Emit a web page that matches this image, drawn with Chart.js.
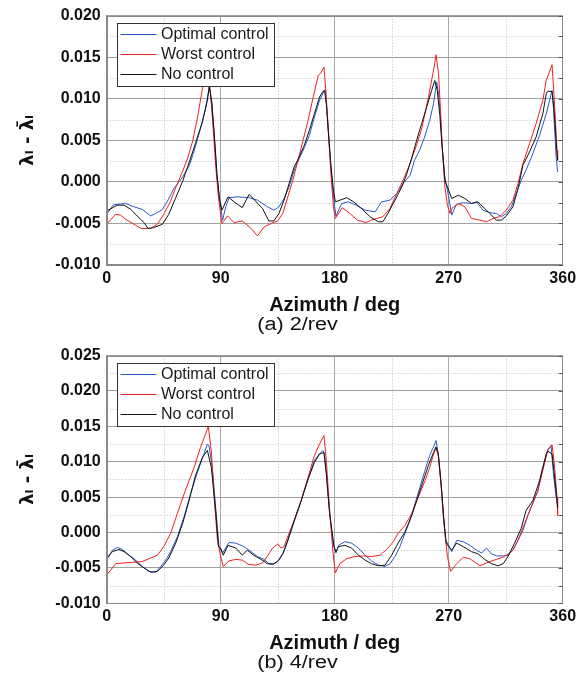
<!DOCTYPE html>
<html><head><meta charset="utf-8">
<script src="https://cdn.jsdelivr.net/npm/chart.js@4.4.0/dist/chart.umd.min.js"></script>
<style>
html,body{margin:0;padding:0;background:#fff;width:587px;height:682px;overflow:hidden;}
.wrap{position:absolute;left:0;width:587px;}
.cap{position:absolute;width:587px;left:4px;text-align:center;font-family:"Liberation Sans",Arial,sans-serif;font-size:18px;color:#111;line-height:20px;transform:scaleX(1.2);}
</style></head><body>
<div class="wrap" style="top:0;height:340px"><canvas id="c1" width="587" height="340"></canvas></div>
<div class="wrap" style="top:340px;height:342px"><canvas id="c2" width="587" height="342"></canvas></div>
<div class="cap" style="top:314px">(a) 2/rev</div>
<div class="cap" style="top:652px">(b) 4/rev</div>
<script>
// ---------- (a) 2/rev ----------
const t_opt_az = [0,5,8.4,15,21.6,28,34.7,38.7,44,48,53,60,65,69,74,78,80,81,83,85,87,89,91.5,94,96.6,103,112.5,119,127,132,136,140,144,148,152,156,160,164,168,171.5,172.6,174,176,178,180,181,185.5,190.8,197,204,212,217,223.6,229,234,239.5,243,247,251,255,258,260.5,262,263.5,265,267,270,272.4,276,281.5,288,292,297,302.4,307.7,311.6,315.5,319.4,323.4,327.3,331,336.4,341.7,347,351.6,352.7,354.8,356];
const t_opt_v = [-0.0039,-0.0028,-0.0027,-0.0026,-0.0030,-0.0033,-0.0041,-0.0038,-0.0033,-0.0023,-0.0008,0.0006,0.0019,0.0037,0.0064,0.0088,0.0106,0.0115,0.0095,0.0055,0.0010,-0.0020,-0.0046,-0.0030,-0.0019,-0.0018,-0.0019,-0.0022,-0.0030,-0.0034,-0.0030,-0.0020,-0.0006,0.0014,0.0028,0.0041,0.0056,0.0078,0.0098,0.0109,0.0111,0.0085,0.0040,-0.0002,-0.0030,-0.0041,-0.0026,-0.0024,-0.0028,-0.0034,-0.0036,-0.0024,-0.0022,-0.0014,-0.0002,0.0008,0.0026,0.0038,0.0054,0.0074,0.0094,0.0120,0.0106,0.0080,0.0040,0.0005,-0.0018,-0.0040,-0.0027,-0.0025,-0.0026,-0.0024,-0.0034,-0.0037,-0.0038,-0.0042,-0.0038,-0.0030,-0.0014,0.0002,0.0014,0.0034,0.0056,0.0082,0.0110,0.0090,0.0030,0.0012];

const t_wst_az = [0,7,11,15,21.6,27,34.7,40,45,50.5,54.5,60,64,68,72,75.5,78,80,82,84,86,88,90,91,95.3,100.6,107,114,119,124.4,130,135,139,143,147,151,155,159,163,167,169,171.5,173,175,177,179,180.5,186,192,198,204.6,209,213,218,223.6,229,234,239.5,245,249,254,258,260,262,263.4,265,267,269,271,272.4,277.6,282.8,288,294.6,300,305,310,315.5,320.7,324.7,328.6,333.8,339,344.3,347,351.6,353.4,355.5,356];
const t_wst_v = [-0.0051,-0.0039,-0.0040,-0.0045,-0.0051,-0.0056,-0.0056,-0.0051,-0.0039,-0.0023,-0.0007,0.0013,0.0029,0.0050,0.0080,0.0112,0.0128,0.0135,0.0105,0.0065,0.0020,-0.0015,-0.0040,-0.0050,-0.0041,-0.0049,-0.0047,-0.0056,-0.0065,-0.0054,-0.0050,-0.0047,-0.0038,-0.0018,0.0002,0.0026,0.0050,0.0074,0.0102,0.0128,0.0131,0.0138,0.0110,0.0060,0.0010,-0.0030,-0.0044,-0.0031,-0.0038,-0.0046,-0.0049,-0.0046,-0.0044,-0.0042,-0.0032,-0.0014,0.0002,0.0022,0.0046,0.0066,0.0102,0.0134,0.0153,0.0130,0.0090,0.0038,-0.0006,-0.0028,-0.0038,-0.0032,-0.0026,-0.0030,-0.0044,-0.0046,-0.0048,-0.0044,-0.0042,-0.0034,-0.0022,-0.0002,0.0022,0.0046,0.0070,0.0098,0.0122,0.0141,0.0098,0.0038,0.0026];

const t_no_az = [0,8.4,13.7,19,24,29.5,32.6,37,44,49,54.5,60,65,70,75.5,79.5,81,83,85,87,89,91,95.8,100.6,107,112.5,118,123,128,132,136,140,144,148,152,156,160,164,168,170.7,172,173.5,175,177,179,180.5,189.5,195,201,208,214.5,218,222,227.6,233,237,241,244.7,248.6,252.6,256.5,259,261,263,264.4,267,270,272.4,277.6,282.8,288,293,298.5,302.4,307.7,311.6,315.5,320.7,324.7,328.6,333.8,339,344.3,347,348,351.6,353.4,355.3,356];
const t_no_v = [-0.0035,-0.0028,-0.0028,-0.0033,-0.0041,-0.0049,-0.0056,-0.0055,-0.0051,-0.0039,-0.0019,0.0001,0.0023,0.0046,0.0072,0.0098,0.0115,0.0095,0.0055,0.0010,-0.0020,-0.0034,-0.0018,-0.0024,-0.0031,-0.0015,-0.0024,-0.0032,-0.0047,-0.0047,-0.0038,-0.0022,-0.0002,0.0018,0.0030,0.0044,0.0062,0.0082,0.0102,0.0109,0.0110,0.0092,0.0060,0.0020,-0.0010,-0.0024,-0.0019,-0.0024,-0.0032,-0.0042,-0.0048,-0.0048,-0.0038,-0.0022,-0.0006,0.0010,0.0030,0.0050,0.0070,0.0090,0.0110,0.0122,0.0110,0.0080,0.0050,0.0002,-0.0010,-0.0020,-0.0016,-0.0020,-0.0026,-0.0024,-0.0032,-0.0038,-0.0046,-0.0046,-0.0041,-0.0030,-0.0008,0.0020,0.0036,0.0054,0.0082,0.0106,0.0109,0.0109,0.0082,0.0038,0.0026];

// ---------- (b) 4/rev ----------
const b_opt_az = [0,4.5,8.4,12.4,17.6,23,28,33.4,38.7,42.6,46.6,50.5,55.8,61,66.3,71.6,76.8,79.5,80.8,83.4,86,88.7,91.5,96.6,102,108.5,114,119,124.4,128,132,136,140,144,148,152,156,160,164,168,170.7,172,173.4,176,178.7,181,183,188,193.4,198.7,204,209,214.5,219.7,223.7,227.6,231.5,235.5,239.4,243.4,247.3,251.3,255,257.8,260,261.8,264,265.7,267.6,270,272.4,276.3,281.5,286.7,292,296,299.8,303.7,307.7,313,316.8,320.7,324.7,328.6,332.5,336.4,340.4,344.3,348.2,350.8,352.7,354.8,356];
const b_opt_v = [-0.0039,-0.0025,-0.0021,-0.0024,-0.0032,-0.0039,-0.0048,-0.0055,-0.0056,-0.0048,-0.0039,-0.0027,-0.0006,0.0022,0.0055,0.0085,0.0111,0.0125,0.0122,0.0092,0.0036,-0.0020,-0.0029,-0.0014,-0.0015,-0.0020,-0.0027,-0.0034,-0.0038,-0.0044,-0.0044,-0.0039,-0.0027,-0.0006,0.0015,0.0036,0.0059,0.0080,0.0102,0.0111,0.0116,0.0111,0.0083,0.0027,-0.0015,-0.0029,-0.0018,-0.0013,-0.0015,-0.0022,-0.0032,-0.0040,-0.0046,-0.0048,-0.0044,-0.0034,-0.0020,-0.0001,0.0017,0.0041,0.0064,0.0088,0.0109,0.0120,0.0130,0.0111,0.0069,0.0022,-0.0011,-0.0018,-0.0027,-0.0011,-0.0013,-0.0018,-0.0025,-0.0029,-0.0022,-0.0030,-0.0033,-0.0033,-0.0032,-0.0025,-0.0011,0.0003,0.0024,0.0041,0.0059,0.0092,0.0117,0.0123,0.0083,0.0050,0.0038];

const b_wst_az = [0,3.2,7,13.7,21.6,28,34.7,40,45,50.5,55.8,62,69,74,78,80.2,82.6,85,87.4,90,92,96.6,102,107,112,117.8,123,127,131,135,137.6,140,144,148,153.5,159,164,168,171.5,173.4,176,178.7,180.5,184,189.5,196,202.6,209,215.8,221,226.3,230,235.5,240.8,246,251.3,255,257.8,260,261.8,264.4,267,269,271.5,276.3,281.5,286.7,294.6,302.4,307.7,314.2,320.7,324.7,330,335,340.4,344.3,348.2,351.6,353.4,355.5,356];
const b_wst_v = [-0.0060,-0.0053,-0.0044,-0.0043,-0.0042,-0.0041,-0.0036,-0.0032,-0.0020,-0.0001,0.0027,0.0059,0.0092,0.0120,0.0139,0.0150,0.0115,0.0045,-0.0010,-0.0034,-0.0048,-0.0040,-0.0038,-0.0039,-0.0045,-0.0046,-0.0043,-0.0033,-0.0022,-0.0016,-0.0022,-0.0020,-0.0001,0.0017,0.0045,0.0078,0.0109,0.0125,0.0137,0.0102,0.0031,-0.0029,-0.0057,-0.0044,-0.0037,-0.0034,-0.0033,-0.0034,-0.0032,-0.0024,-0.0013,-0.0001,0.0010,0.0027,0.0050,0.0073,0.0092,0.0109,0.0120,0.0108,0.0059,0.0000,-0.0034,-0.0055,-0.0044,-0.0035,-0.0037,-0.0047,-0.0041,-0.0038,-0.0034,-0.0025,-0.0011,0.0013,0.0036,0.0059,0.0088,0.0116,0.0124,0.0097,0.0050,0.0024];

const b_no_az = [0,4.5,9.7,13.7,19,24,29.5,34.7,40,45,49,54.5,60,65,70,75.5,79.5,82.6,86,88.2,90,92,95.8,102,107,111,116,121,127,131,135,139,143,148,153.5,159,164,168,171.5,173.4,176,179.5,181,183,188,193.4,198.7,204,209,214.5,219.7,225,230,235.5,240.8,244.7,248.6,254,258,260,261.8,264,266,268,270,272.4,276.3,281.5,288,293,298.5,303.7,309,313,316.8,322,327.3,331,336.4,341.7,347,348.2,351.6,353,355.3,356];
const b_no_v = [-0.0036,-0.0027,-0.0024,-0.0027,-0.0034,-0.0043,-0.0050,-0.0056,-0.0055,-0.0046,-0.0036,-0.0015,0.0013,0.0045,0.0080,0.0106,0.0116,0.0092,0.0031,-0.0020,-0.0022,-0.0032,-0.0018,-0.0022,-0.0032,-0.0025,-0.0032,-0.0037,-0.0044,-0.0045,-0.0041,-0.0030,-0.0011,0.0017,0.0045,0.0076,0.0099,0.0111,0.0113,0.0083,0.0027,-0.0020,-0.0027,-0.0020,-0.0018,-0.0022,-0.0032,-0.0039,-0.0044,-0.0047,-0.0046,-0.0032,-0.0015,0.0001,0.0024,0.0045,0.0066,0.0095,0.0113,0.0121,0.0111,0.0069,0.0022,-0.0015,-0.0020,-0.0025,-0.0015,-0.0020,-0.0027,-0.0030,-0.0038,-0.0044,-0.0047,-0.0044,-0.0034,-0.0015,0.0006,0.0031,0.0045,0.0073,0.0111,0.0115,0.0111,0.0088,0.0050,0.0035];

const seriesNames = ['Optimal control','Worst control','No control'];
const seriesColors = ['#2a5ac8','#f02020','#111111'];
const xTitle = 'Azimuth / deg';
const yTitle = 'λₗ - λ̄ₗ';

Chart.defaults.font.family = '"Liberation Sans", Arial, sans-serif';
Chart.defaults.color = '#111';

function pts(az, v){ return az.map((a,i)=>({x:a, y:v[i]})); }

const framePlugin = {
  id:'frame',
  beforeDatasetsDraw(chart){
    const {ctx, chartArea:a, scales:{x,y}} = chart;
    ctx.save();
    ctx.strokeStyle = '#bdbdbd'; ctx.lineWidth = 1; ctx.setLineDash([1,2]);
    const xt = x.ticks.map(t=>t.value), yt = y.ticks.map(t=>t.value);
    for(let i=0;i<xt.length-1;i++){
      const px = Math.round(x.getPixelForValue((xt[i]+xt[i+1])/2))+0.5;
      ctx.beginPath(); ctx.moveTo(px,a.top); ctx.lineTo(px,a.bottom); ctx.stroke();
    }
    for(let i=0;i<yt.length-1;i++){
      const py = Math.round(y.getPixelForValue((yt[i]+yt[i+1])/2))+0.5;
      ctx.beginPath(); ctx.moveTo(a.left,py); ctx.lineTo(a.right,py); ctx.stroke();
    }
    ctx.restore();
  },
  afterDatasetsDraw(chart){
    const {ctx, chartArea:a, scales:{x,y}} = chart;
    ctx.save();
    ctx.strokeStyle = '#8a8a8a'; ctx.lineWidth = 1;
    ctx.strokeRect(Math.round(a.left)+0.5, Math.round(a.top)+0.5, Math.round(a.right-a.left)-1, Math.round(a.bottom-a.top)-1);
    const yt = y.ticks.map(t=>t.value);
    ctx.strokeStyle = '#555';
    for(let i=0;i<yt.length;i++){
      const vals = [yt[i]]; if(i<yt.length-1) vals.push((yt[i]+yt[i+1])/2);
      vals.forEach(v=>{ const py=Math.round(y.getPixelForValue(v))+0.5;
        ctx.beginPath(); ctx.moveTo(a.right-4,py); ctx.lineTo(a.right,py); ctx.stroke(); });
    }
    const bx = Math.round(a.left+10.6)+0.5, by = Math.round(a.top+7.5)+0.5, bw = 157, bh = 63;
    ctx.fillStyle = '#fff'; ctx.fillRect(bx,by,bw,bh);
    ctx.strokeStyle = '#333'; ctx.strokeRect(bx,by,bw,bh);
    ctx.font = '16px "Liberation Sans", Arial, sans-serif';
    ctx.textBaseline = 'middle'; ctx.fillStyle = '#1a1a1a';
    const rows = [10.8, 30.5, 50.5];
    chart.data.datasets.forEach((ds,i)=>{
      const ry = Math.round(by + rows[i]) + 0.5;
      ctx.strokeStyle = ds.borderColor; ctx.lineWidth = 1;
      ctx.beginPath(); ctx.moveTo(bx+3, ry); ctx.lineTo(bx+39, ry); ctx.stroke();
      ctx.fillText(ds.label, bx+43.5, ry);
    });
    ctx.restore();
  }
};

function makeChart(id, sets, yMin, yMax, padTop, xHeight, titlePadBottom){
  return new Chart(document.getElementById(id), {
    type:'line',
    data:{ datasets: sets.map((s,i)=>({
      label: seriesNames[i], data: pts(s[0], s[1]), borderColor: seriesColors[i],
      borderWidth: 1, pointRadius: 0, tension: 0, fill:false, order: [2,1,0][i]
    }))},
    options:{
      responsive:false, animation:false, devicePixelRatio:1,
      layout:{ padding:{ top:padTop, right:24.3, left:0, bottom:0 } },
      plugins:{ legend:{display:false}, tooltip:{enabled:false} },
      scales:{
        x:{ type:'linear', min:0, max:360,
            afterFit(s){ s.height = xHeight; },
            ticks:{ stepSize:90, maxRotation:0, padding:4, color:'#111', font:{size:16, weight:'bold'} },
            grid:{ color:'#a8a8a8', lineWidth:1, drawTicks:false },
            border:{ display:true, color:'#8a8a8a' },
            title:{ display:true, text:xTitle, color:'#111', font:{size:20, weight:'bold'}, padding:{top:0, bottom:titlePadBottom} } },
        y:{ type:'linear', min:yMin, max:yMax,
            afterFit(s){ s.width = 106.7; },
            ticks:{ stepSize:0.005, padding:6, color:'#111', font:{size:16, weight:'bold'}, callback:v=>v.toFixed(3) },
            grid:{ color:'#a0a0a0', lineWidth:1, drawTicks:false },
            border:{ display:true, color:'#8a8a8a' },
            title:{ display:true, text:yTitle, color:'#111', font:{size:18, weight:'bold', family:'"DejaVu Sans", sans-serif'}, padding:{top:18, bottom:0} } }
      }
    },
    plugins:[framePlugin]
  });
}

makeChart('c1', [[t_opt_az,t_opt_v],[t_wst_az,t_wst_v],[t_no_az,t_no_v]], -0.010, 0.020, 15.7, 75, 23);
makeChart('c2', [[b_opt_az,b_opt_v],[b_wst_az,b_wst_v],[b_no_az,b_no_v]], -0.010, 0.025, 14.3, 78.7, 27);
</script>
</body></html>
